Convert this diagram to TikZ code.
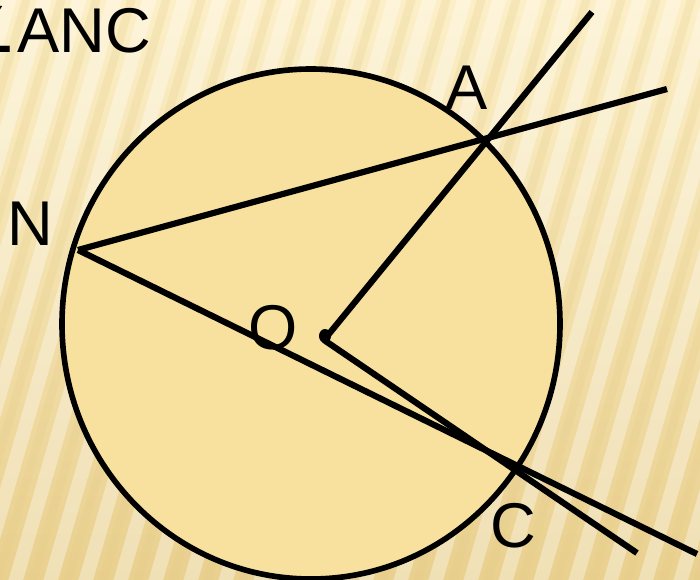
\documentclass[tikz,border=0pt]{standalone}
\usepackage{fontspec}
\setmainfont{Liberation Sans}
\newfontfamily\symfont{DejaVu Sans}
\usepackage{xcolor}
\definecolor{PaperLight}{HTML}{FCEFC7}
\definecolor{PaperDark}{HTML}{E9D08F}
\definecolor{StripeDark}{HTML}{E6CC88}
\definecolor{Disk}{HTML}{F8E19E}

\tikzset{
  lbl/.style={font=\fontsize{45}{48}\selectfont,inner sep=0pt},
  chord/.style={line width=4.4pt},
}

\begin{document}
\begin{tikzpicture}[x=0.025cm,y=-0.025cm]
    \clip (0,0) rectangle (700,580);
    % paper background
    \shade[top color=PaperLight,bottom color=PaperDark] (0,0) rectangle (700,580);
    \foreach \s in {-200,-165,...,900}{
      \draw[white,opacity=0.35,line width=10pt] (\s,600) -- (\s+180,-20);
      \draw[StripeDark,opacity=0.25,line width=6pt] (\s+17,600) -- (\s+197,-20);
    }
    % circle
    \draw[fill=Disk,line width=4pt] (311,324) ellipse [x radius=249,y radius=255];
    % points
    \coordinate (N) at (78,250);
    \coordinate (A) at (485,140);
    \coordinate (C) at (513,467);
    \coordinate (V) at (324,340);
    \coordinate (NAend) at (667,89);
    \coordinate (NCend) at (697,554);
    \coordinate (VAend) at (592,12);
    \coordinate (VCend) at (637,553);
    \draw[chord] (N) -- (NAend);
    \draw[chord] (N) -- (NCend);
    \draw[chord] (V) -- (VAend);
    \draw[chord] (V) -- (VCend);
    \fill (325,336) ellipse [x radius=6,y radius=7];
    % labels
    \node[lbl] (lA) at (467,88) {A};
    \node[lbl] (lN) at (30,224) {N};
    \node[lbl] (lO) at (273,328) {O};
    \node[lbl] (lC) at (513,526) {C};
    \node[lbl,anchor=base east] (title) at (151,52) {{\symfont ∠}ANC};
\end{tikzpicture}
\end{document}
